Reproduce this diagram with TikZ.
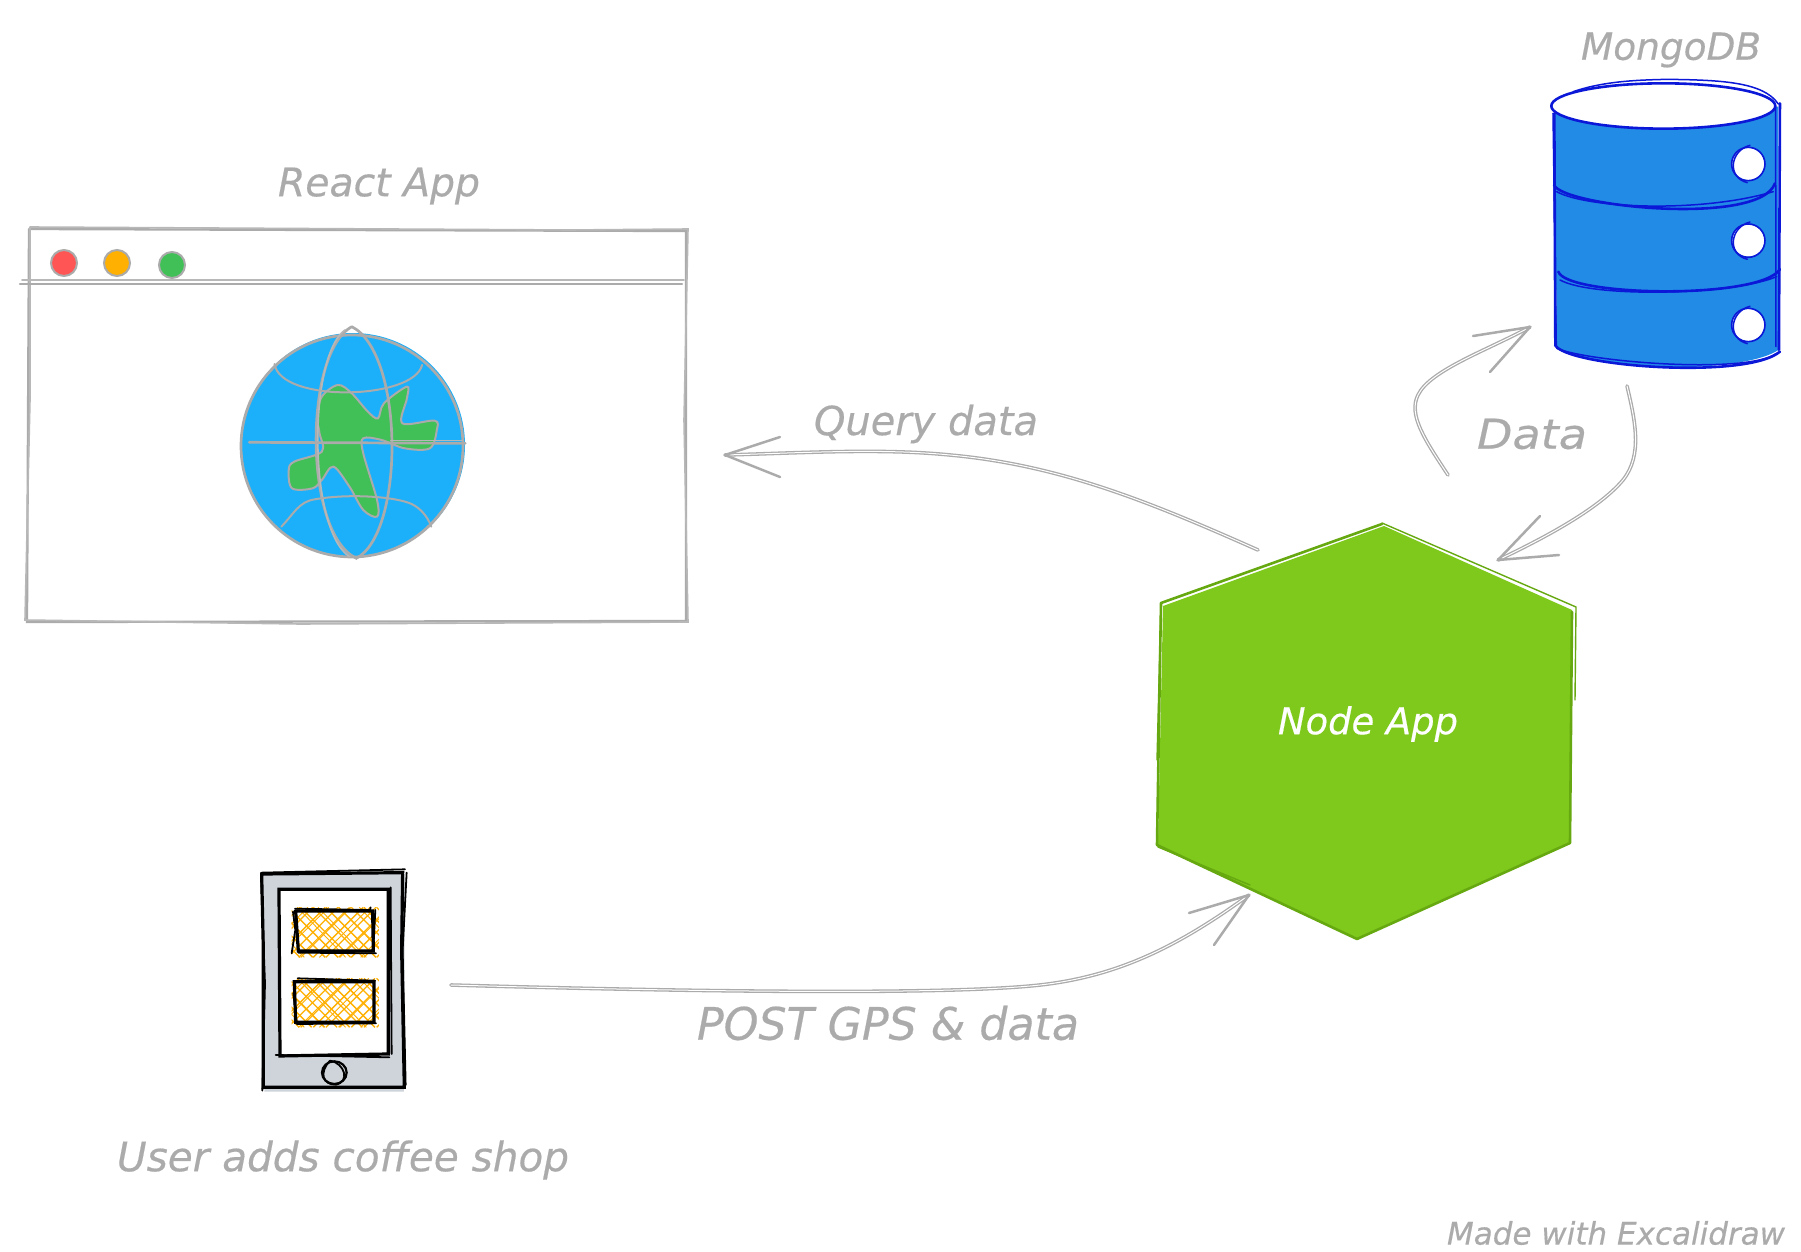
\documentclass[tikz,border=0pt]{standalone}
\usepackage{fontspec}
\usepackage{graphicx}
\setmainfont{DejaVu Sans}
\definecolor{grayink}{HTML}{ABABAB}
\definecolor{globeblue}{HTML}{1CB0FA}
\definecolor{landgreen}{HTML}{40C057}
\definecolor{dbblue}{HTML}{228BE6}
\definecolor{dbink}{HTML}{0C18D8}
\definecolor{hexgreen}{HTML}{7FC91C}
\definecolor{hexink}{HTML}{66A80F}
\definecolor{slate}{HTML}{CED4DA}
\definecolor{hatchorange}{HTML}{FFB000}
\definecolor{dotred}{HTML}{FF5555}
\tikzset{
  conn/.style={draw=grayink,line width=.65pt,double=white,double distance=.5pt,line cap=round},
  barb/.style={draw=grayink,line width=1.25pt,line cap=round,line join=round},
  web/.style={draw=grayink,line width=1.15pt,line cap=round},
  webthin/.style={draw=grayink!85,line width=.8pt,line cap=round},
  globeline/.style={draw=grayink,line width=1.35pt,line cap=round},
  dbline/.style={draw=dbink,line width=1.3pt,line cap=round,line join=round},
  dbthin/.style={draw=dbink,line width=.75pt,line cap=round,line join=round},
  ink/.style={draw=black,line width=1.6pt,line cap=round},
  inkthin/.style={draw=black,line width=.9pt,line cap=round},
  hatch/.style={draw=hatchorange,line width=.65pt},
  hexline/.style={draw=hexink,line width=1.3pt,line join=round,line cap=round},
  hexthin/.style={draw=hexink,line width=.7pt,line join=round,line cap=round},
  dot/.style={circle,draw=grayink,line width=1pt,minimum size=13pt,inner sep=0pt},
  lab/.style={inner sep=0pt,text=grayink,font=\fontsize{21}{24}\selectfont\itshape\addfontfeature{FakeBold=0.4}},
}
\begin{document}
\begin{tikzpicture}[x=.5pt,y=-.5pt]
\useasboundingbox (0,0) rectangle (1801,1252);
\fill[white] (0,0) rectangle (1801,1252);

% ---------- browser window
\draw[web] (29,229) -- (330,230) -- (686,231) -- (686,621) -- (27,622) -- (29,229);
\draw[webthin] (30,227) -- (570,230) -- (688,229) -- (684,420) -- (688,622) -- (300,624) -- (25,620) -- (30,400) -- (30,227);
\draw[web] (20,284) -- (682,284);
\draw[webthin] (22,280) -- (684,280);
\node[dot,fill=dotred] (reddot) at (64,263) {};
\node[dot,fill=hatchorange] (amberdot) at (117,263) {};
\node[dot,fill=landgreen] (greendot) at (172,265) {};

% ---------- globe
\fill[globeblue] (353,445) ellipse [x radius=112,y radius=112];
\draw[globeline] (352,446) ellipse [x radius=111,y radius=111];
\begin{scope}[shift={(0,140)},xscale=.4598,yscale=.3333]
  \draw[globeline,fill=landgreen,line width=1pt] plot[smooth cycle,tension=.55] coordinates {
    (735,735) (765,760) (800,815) (822,835) (835,790) (885,740) (885,775) (875,850) (945,842) (950,870) (935,925) (880,925) (830,900) (790,895) (790,940) (820,1080) (820,1130) (790,1110) (760,1040) (725,980) (700,1020) (680,1045) (635,1045) (628,990) (640,965) (700,935) (695,880) (690,830) (700,770)};
  \draw[globeline] (765,560) .. controls (660,640) and (660,1180) .. (775,1255) .. controls (880,1180) and (880,640) .. (765,560);
  \draw[webthin] (750,570) .. controls (670,650) and (670,1170) .. (760,1250);
  \draw[globeline,line width=1pt] (597,672) .. controls (610,790) and (900,780) .. (918,675);
  \draw[globeline,line width=1pt] (612,1160) .. controls (640,1120) and (650,1085) .. (685,1078) .. controls (760,1060) and (860,1070) .. (895,1092) .. controls (915,1105) and (930,1130) .. (938,1160);
  \draw[globeline] (542,907) -- (1012,910);
  \draw[webthin] (850,902) -- (1005,902);
\end{scope}

% ---------- database
\begin{scope}[shift={(1400,0)},scale=.3333]
  \fill[dbblue] (465,330) -- (1135,320) -- (1135,1050) .. controls (1040,1115) and (640,1125) .. (470,1045) -- cycle;
  \fill[white] (790,318) ellipse [x radius=335,y radius=66];
  \draw[dbline] (790,318) ellipse [x radius=336,y radius=68];
  \draw[dbthin] (520,275) .. controls (620,240) and (740,240) .. (800,238) .. controls (960,240) and (1090,245) .. (1135,312);
  \draw[dbline] (463,340) -- (466,1035);
  \draw[dbthin] (459,340) -- (469,1040);
  \draw[dbline] (1140,310) -- (1137,1050);
  \draw[dbthin] (1127,320) -- (1128,1040);
  \draw[dbline] (465,1035) .. controls (500,1100) and (1040,1140) .. (1140,1055);
  \draw[dbthin] (470,1045) .. controls (560,1085) and (1040,1125) .. (1130,1060);
  \draw[dbline] (462,555) .. controls (490,620) and (1080,680) .. (1125,550);
  \draw[dbthin] (470,575) .. controls (560,625) and (900,640) .. (1120,575);
  \draw[dbline] (475,815) .. controls (500,890) and (1080,900) .. (1140,808);
  \draw[dbthin] (480,840) .. controls (580,895) and (1000,885) .. (1130,830);
  \foreach \cy in {492,722,975}{
    \fill[white] (1045,\cy) circle [radius=48];
    \draw[dbline,line width=.8pt] (1045,\cy) circle [radius=50];
    \draw[dbthin] (1050,\cy-56) .. controls (990,\cy-40) and (980,\cy+40) .. (1042,\cy+56);
  }
\end{scope}

% ---------- hexagon
\fill[hexgreen] (1384,526) -- (1572,610) -- (1570,842) -- (1357,938) -- (1158,845) -- (1163,606) -- cycle;
\draw[hexline] (1382,524) -- (1161,603) -- (1157,845) -- (1357,939) -- (1570,843) -- (1572,612);
\draw[hexthin] (1382,523) -- (1576,607) -- (1575,700);
\draw[hexthin] (1161,603) -- (1157,760);
\draw[hexthin] (1158,847) -- (1250,885);

% ---------- tablet
\begin{scope}[shift={(230,850)},scale=.3333]
  \fill[slate] (97,72) -- (525,72) -- (522,725) -- (103,725) -- cycle;
  \fill[white] (150,118) rectangle (478,618);
  \begin{scope}
    \clip (185,172) rectangle (447,322);
    \foreach \a in {-130,-92,...,450}{
      \draw[hatch] (\a,172) -- (\a+150,322);
      \draw[hatch] (\a+150,172) -- (\a,322);
    }
    \foreach \a in {-108,-46,...,450}{
      \draw[hatch,line width=.45pt] (\a,172) -- (\a+145,322);
      \draw[hatch,line width=.45pt] (\a+156,172) -- (\a+4,322);
    }
  \end{scope}
  \begin{scope}
    \clip (185,385) rectangle (447,532);
    \foreach \a in {-130,-92,...,450}{
      \draw[hatch] (\a,385) -- (\a+147,532);
      \draw[hatch] (\a+147,385) -- (\a,532);
    }
    \foreach \a in {-108,-46,...,450}{
      \draw[hatch,line width=.45pt] (\a,385) -- (\a+145,532);
      \draw[hatch,line width=.45pt] (\a+152,385) -- (\a+4,532);
    }
  \end{scope}
  \draw[ink] (95,72) -- (518,68) -- (515,300) -- (523,712) -- (100,712) -- (100,300) -- cycle;
  \draw[inkthin] (95,68) -- (525,58);
  \draw[inkthin] (530,68) -- (518,300) -- (527,705);
  \draw[inkthin] (93,80) -- (105,400) -- (97,722);
  \draw[ink] (147,118) -- (475,118) -- (475,612) -- (150,618) -- cycle;
  \draw[inkthin] (482,112) -- (485,612);
  \draw[inkthin] (137,615) -- (478,622);
  \draw[ink] (195,183) -- (428,183) -- (430,303) -- (205,303) -- (197,183);
  \draw[inkthin] (195,176) -- (420,180) -- (422,172);
  \draw[inkthin] (189,185) -- (196,240) -- (185,310);
  \draw[inkthin] (205,308) -- (438,310);
  \draw[inkthin] (436,180) -- (430,298);
  \draw[ink] (193,395) -- (432,395) -- (432,517) -- (197,517) -- cycle;
  \draw[inkthin] (203,385) -- (435,392);
  \draw[inkthin] (190,430) -- (200,515);
  \draw[inkthin] (200,522) -- (438,520);
  \draw[ink,line width=1.1pt] (313,668) ellipse [x radius=37,y radius=34];
  \draw[inkthin] (300,632) .. controls (265,670) and (280,705) .. (318,704) .. controls (360,695) and (345,640) .. (300,632);
\end{scope}

% ---------- labels
\node[lab] (reactlabel) at (379,186) {\resizebox{101pt}{!}{React App}};
\node[lab] (mongolabel) at (1671,50) {\resizebox{90pt}{!}{MongoDB}};
\node[lab] (querylabel) at (926,424) {\resizebox{112pt}{!}{Query data}};
\node[lab] (datalabel) at (1532,434) {\resizebox{55pt}{15pt}{Data}};
\node[lab,text=white] (nodelabel) at (1368,724) {\resizebox{90pt}{!}{Node App}};
\node[lab] (postlabel) at (888,1023) {\resizebox{191pt}{17pt}{POST GPS \& data}};
\node[lab] (userlabel) at (343,1160) {\resizebox{226pt}{!}{User adds coffee shop}};
\node[lab] (madelabel) at (1616,1233) {\resizebox{169pt}{!}{Made with Excalidraw}};

% ---------- connectors
\coordinate (qstart) at (1258,550);
\coordinate (qmid) at (950,455);
\coordinate (qtip) at (725,455);
\coordinate (qb1) at (780,437);
\coordinate (qb2) at (780,477);
\draw[conn] (qstart) .. controls (1150,502) and (1060,465) .. (qmid) .. controls (880,448) and (800,453) .. (qtip);
\draw[barb] (qb1) -- (qtip) -- (qb2);

\coordinate (pstart) at (451,985);
\coordinate (pmid) at (1040,985);
\coordinate (ptip) at (1249,895);
\coordinate (pb1) at (1189,913);
\coordinate (pb2) at (1214,945);
\draw[conn] (pstart) .. controls (700,992) and (950,995) .. (pmid) .. controls (1120,976) and (1180,945) .. (ptip);
\draw[barb] (pb1) -- (ptip) -- (pb2);

\coordinate (ustart) at (1448,475);
\coordinate (umid) at (1418,395);
\coordinate (utip) at (1530,327);
\coordinate (ub1) at (1473,336);
\coordinate (ub2) at (1490,372);
\draw[conn] (ustart) .. controls (1425,440) and (1408,415) .. (umid) .. controls (1430,370) and (1488,350) .. (utip);
\draw[barb] (ub1) -- (utip) -- (ub2);

\coordinate (dstart) at (1627,386);
\coordinate (dmid) at (1623,480);
\coordinate (dtip) at (1498,560);
\coordinate (db1) at (1540,516);
\coordinate (db2) at (1559,555);
\draw[conn] (dstart) .. controls (1635,420) and (1643,455) .. (dmid) .. controls (1598,510) and (1540,540) .. (dtip);
\draw[barb] (db1) -- (dtip) -- (db2);
\end{tikzpicture}
\end{document}
